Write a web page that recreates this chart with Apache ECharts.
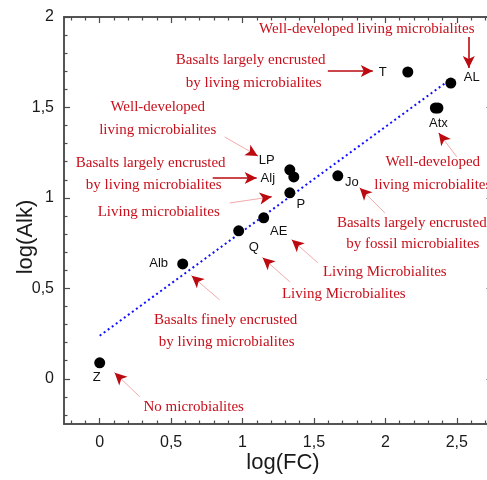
<!DOCTYPE html>
<html>
<head>
<meta charset="utf-8">
<script src="https://cdn.jsdelivr.net/npm/echarts@6/dist/echarts.min.js"></script>
<style>html,body{margin:0;padding:0;background:#fff}#c{width:487px;height:480px}</style>
</head>
<body>
<div id="c"></div>
<script>
// ---- data ----
const siteNames = ['Z','Alb','Q','AE','P','LP','Alj','Jo','T','AL','Atx',''];
const logFC  = [0.000, 0.581, 0.973, 1.148, 1.331, 1.331, 1.359, 1.667, 2.157, 2.458, 2.350, 2.368];
const logAlk = [0.088, 0.635, 0.818, 0.890, 1.028, 1.155, 1.116, 1.122, 1.696, 1.635, 1.497, 1.497];
const fitX = [0.0, 2.43];
const fitY = [0.238, 1.641];
const xMajorTicks = [0, 0.5, 1, 1.5, 2, 2.5];
const yMajorTicks = [0, 0.5, 1, 1.5, 2];
const xMinorTicks = [-0.2,-0.1,0.1,0.2,0.3,0.4,0.6,0.7,0.8,0.9,1.1,1.2,1.3,1.4,1.6,1.7,1.8,1.9,2.1,2.2,2.3,2.4,2.6,2.7];
const yMinorTicks = [-0.2,-0.1,0.1,0.2,0.3,0.4,0.6,0.7,0.8,0.9,1.1,1.2,1.3,1.4,1.6,1.7,1.8,1.9];
// annotation texts (centre anchor, in data coordinates)
const noteTexts = ['Well-developed living microbialites','Basalts largely encrusted','by living microbialites',
  'Well-developed','living microbialites','Basalts largely encrusted','by living microbialites','Living microbialites',
  'Well-developed','living microbialites','Basalts largely encrusted','by fossil microbialites',
  'Living Microbialites','Living Microbialites','Basalts finely encrusted','by living microbialites','No microbialites'];
const noteX = [1.870,1.057,1.078,0.406,0.406,0.357,0.378,0.413,2.332,2.332,2.185,2.192,1.996,1.709,0.882,0.889,0.658];
const noteY = [1.934,1.762,1.635,1.503,1.376,1.193,1.072,0.923,1.199,1.072,0.862,0.746,0.591,0.470,0.326,0.204,-0.155];
// arrows: start -> end, data coordinates; bold = solid dark red, else faint line with dark head
const arrowX0 = [2.584,1.597,0.875,0.791,0.910,1.527,1.331,0.840,0.280,1.996,2.500];
const arrowY0 = [1.890,1.702,1.337,1.110,0.972,0.641,0.536,0.436,-0.099,0.917,1.227];
const arrowX1 = [2.584,1.912,1.106,1.099,1.204,1.345,1.141,0.644,0.105,1.821,2.374];
const arrowY1 = [1.718,1.702,1.232,1.110,1.006,0.768,0.669,0.569,0.033,1.055,1.359];
const arrowBold = [true,true,false,true,false,false,false,false,false,false,false];

// ---- layout / styles ----
const labelOffsets = [[-3,15],[-24,0],[15,17],[15,14],[11,12],[-23,-9],[-26,2],[14,7],[-25,0],[21,-6],[3,15],[0,0]];
const RED = '#c8101c', DARKRED = '#bb0a10', PINK = '#f0a0a0', AXIS = '#4a4a4a';
const fmt = v => String(v).replace('.', ',');

function xAx(pos, ticks, len, showLabel) {
  return {type:'value', min:-0.25, max:2.75, position:pos,
    axisLine:{show:true, onZero:false, lineStyle:{color:AXIS, width:1.5}},
    axisTick:{show:true, inside:true, length:len, customValues:ticks, lineStyle:{color:AXIS, width:1.2}},
    axisLabel:{show:showLabel, customValues:xMajorTicks, formatter:fmt, fontSize:16, color:'#1a1a1a',
      fontFamily:'Liberation Sans, Arial, sans-serif', margin:11},
    splitLine:{show:false}};
}
function yAx(pos, ticks, len, showLabel) {
  return {type:'value', min:-0.25, max:2, position:pos,
    axisLine:{show:true, onZero:false, lineStyle:{color:AXIS, width:1.5}},
    axisTick:{show:true, inside:true, length:len, customValues:ticks, lineStyle:{color:AXIS, width:1.2}},
    axisLabel:{show:showLabel, customValues:yMajorTicks, formatter:fmt, fontSize:16, color:'#1a1a1a',
      fontFamily:'Liberation Sans, Arial, sans-serif', margin:10},
    splitLine:{show:false}};
}

const pts = logFC.map((x,i)=>({value:[x, logAlk[i]], name:siteNames[i],
  label:{show:siteNames[i] !== '', offset:labelOffsets[i]}}));
const notes = noteTexts.map((t,i)=>({value:[noteX[i], noteY[i]], name:t}));

const markData = [];
arrowX0.forEach((x0,i)=>{
  const x1 = arrowX1[i], y0 = arrowY0[i], y1 = arrowY1[i];
  if (arrowBold[i]) {
    markData.push([{coord:[x0,y0], symbol:'none'},
      {coord:[x1,y1], symbol:'arrow', symbolSize:[9,12], lineStyle:{color:DARKRED, width:1.6, type:'solid'}, itemStyle:{color:DARKRED}}]);
  } else {
    markData.push([{coord:[x0,y0], symbol:'none'},
      {coord:[x1,y1], symbol:'none', lineStyle:{color:PINK, width:0.9, type:'solid'}}]);
    const hx = x1 - (x1-x0)*0.12, hy = y1 - (y1-y0)*0.12;
    markData.push([{coord:[hx,hy], symbol:'none'},
      {coord:[x1,y1], symbol:'arrow', symbolSize:[9,12], lineStyle:{color:DARKRED, width:1, type:'solid'}, itemStyle:{color:DARKRED}}]);
  }
});

const chart = echarts.init(document.getElementById('c'), null, {renderer:'canvas'});
chart.setOption({
  animation:false,
  backgroundColor:'#fff',
  grid:{left:64, width:428.5, top:17, height:407, containLabel:false, outerBoundsMode:'none'},
  xAxis:[xAx('bottom', xMajorTicks, 6, true), xAx('bottom', xMinorTicks, 3.5, false),
         xAx('top', xMajorTicks, 6, false), xAx('top', xMinorTicks, 3.5, false)],
  yAxis:[yAx('left', yMajorTicks, 6, true), yAx('left', yMinorTicks, 3.5, false),
         yAx('right', yMajorTicks, 6, false), yAx('right', yMinorTicks, 3.5, false)],
  graphic:[
    {type:'text', x:283, y:463, style:{text:'log(FC)', font:'22px "Liberation Sans", Arial, sans-serif', fill:'#1a1a1a', align:'center', verticalAlign:'middle'}},
    {type:'text', rotation:Math.PI/2, x:26, y:237,
     style:{text:'log(Alk)', font:'22px "Liberation Sans", Arial, sans-serif', fill:'#1a1a1a', align:'center', verticalAlign:'middle'}}
  ],
  series:[
    {type:'line', data:fitX.map((x,i)=>[x, fitY[i]]), symbol:'none', silent:true,
      lineStyle:{color:'#1010ff', width:2, type:[2,3]}, z:2},
    {type:'scatter', data:pts, symbolSize:11, itemStyle:{color:'#000', opacity:1}, z:3,
      label:{position:'inside', formatter:'{b}', color:'#111', fontSize:13, fontFamily:'Liberation Sans, Arial, sans-serif'}},
    {type:'scatter', data:notes, symbolSize:0, silent:true, z:4, itemStyle:{opacity:1},
      label:{show:true, position:'inside', formatter:'{b}', color:RED, fontSize:15,
        fontFamily:'Liberation Serif, "Times New Roman", serif'}},
    {type:'line', data:[], silent:true, z:5,
      markLine:{silent:true, animation:false, label:{show:false}, symbol:['none','arrow'], data:markData}}
  ]
});
</script>
</body>
</html>
